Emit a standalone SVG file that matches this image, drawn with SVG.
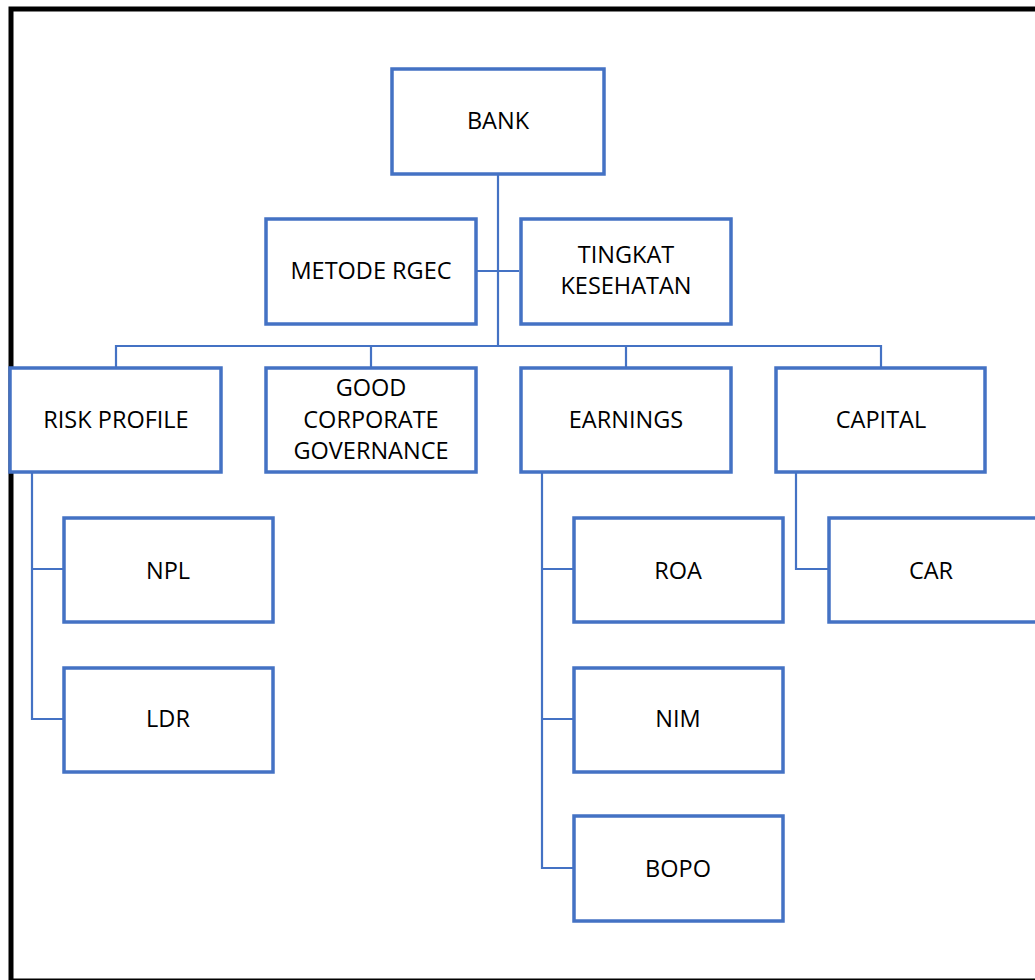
<svg xmlns="http://www.w3.org/2000/svg" width="1035" height="980" viewBox="0 0 1035 980">
<style>
.box{fill:#fff;stroke:#4472C4;stroke-width:3.5}
.con{fill:none;stroke:#4472C4;stroke-width:2.2}
text{font-family:"Open Sans","Liberation Sans",sans-serif;font-size:23.5px;fill:#000;text-anchor:middle}
</style>
<rect x="0" y="0" width="1035" height="980" fill="#fff"/>
<rect x="11" y="9" width="1100" height="972" fill="none" stroke="#000" stroke-width="5"/>
<g id="connectors">
<path class="con" d="M498 174 V346 M477 271 H519 M116 367 V346 H881 V367 M371 346 V367 M626 346 V367"/>
<path class="con" d="M32 473 V719 H63 M32 569 H63"/>
<path class="con" d="M542 473 V868 H573 M542 569 H573 M542 719 H573"/>
<path class="con" d="M796 473 V569 H828"/>
</g>
<g id="bank"><rect class="box" x="392" y="69" width="212" height="105"/><text x="498" y="129">BANK</text></g>
<g id="metode"><rect class="box" x="266" y="219" width="210" height="105"/><text x="371" y="279">METODE RGEC</text></g>
<g id="tingkat"><rect class="box" x="521" y="219" width="210" height="105"/><text x="626" y="263">TINGKAT</text><text x="626" y="294">KESEHATAN</text></g>
<g id="risk"><rect class="box" x="10" y="368" width="211" height="104"/><text x="116" y="428">RISK PROFILE</text></g>
<g id="gcg"><rect class="box" x="266" y="368" width="210" height="104"/><text x="371" y="396">GOOD</text><text x="371" y="428">CORPORATE</text><text x="371" y="459">GOVERNANCE</text></g>
<g id="earnings"><rect class="box" x="521" y="368" width="210" height="104"/><text x="626" y="428">EARNINGS</text></g>
<g id="capital"><rect class="box" x="776" y="368" width="209" height="104"/><text x="881" y="428">CAPITAL</text></g>
<g id="npl"><rect class="box" x="64" y="518" width="209" height="104"/><text x="168" y="579">NPL</text></g>
<g id="ldr"><rect class="box" x="64" y="668" width="209" height="104"/><text x="168" y="727">LDR</text></g>
<g id="roa"><rect class="box" x="574" y="518" width="209" height="104"/><text x="678" y="579">ROA</text></g>
<g id="nim"><rect class="box" x="574" y="668" width="209" height="104"/><text x="678" y="727">NIM</text></g>
<g id="bopo"><rect class="box" x="574" y="816" width="209" height="105"/><text x="678" y="877">BOPO</text></g>
<g id="car"><rect class="box" x="829" y="518" width="220" height="104"/><text x="931" y="579">CAR</text></g>
</svg>
